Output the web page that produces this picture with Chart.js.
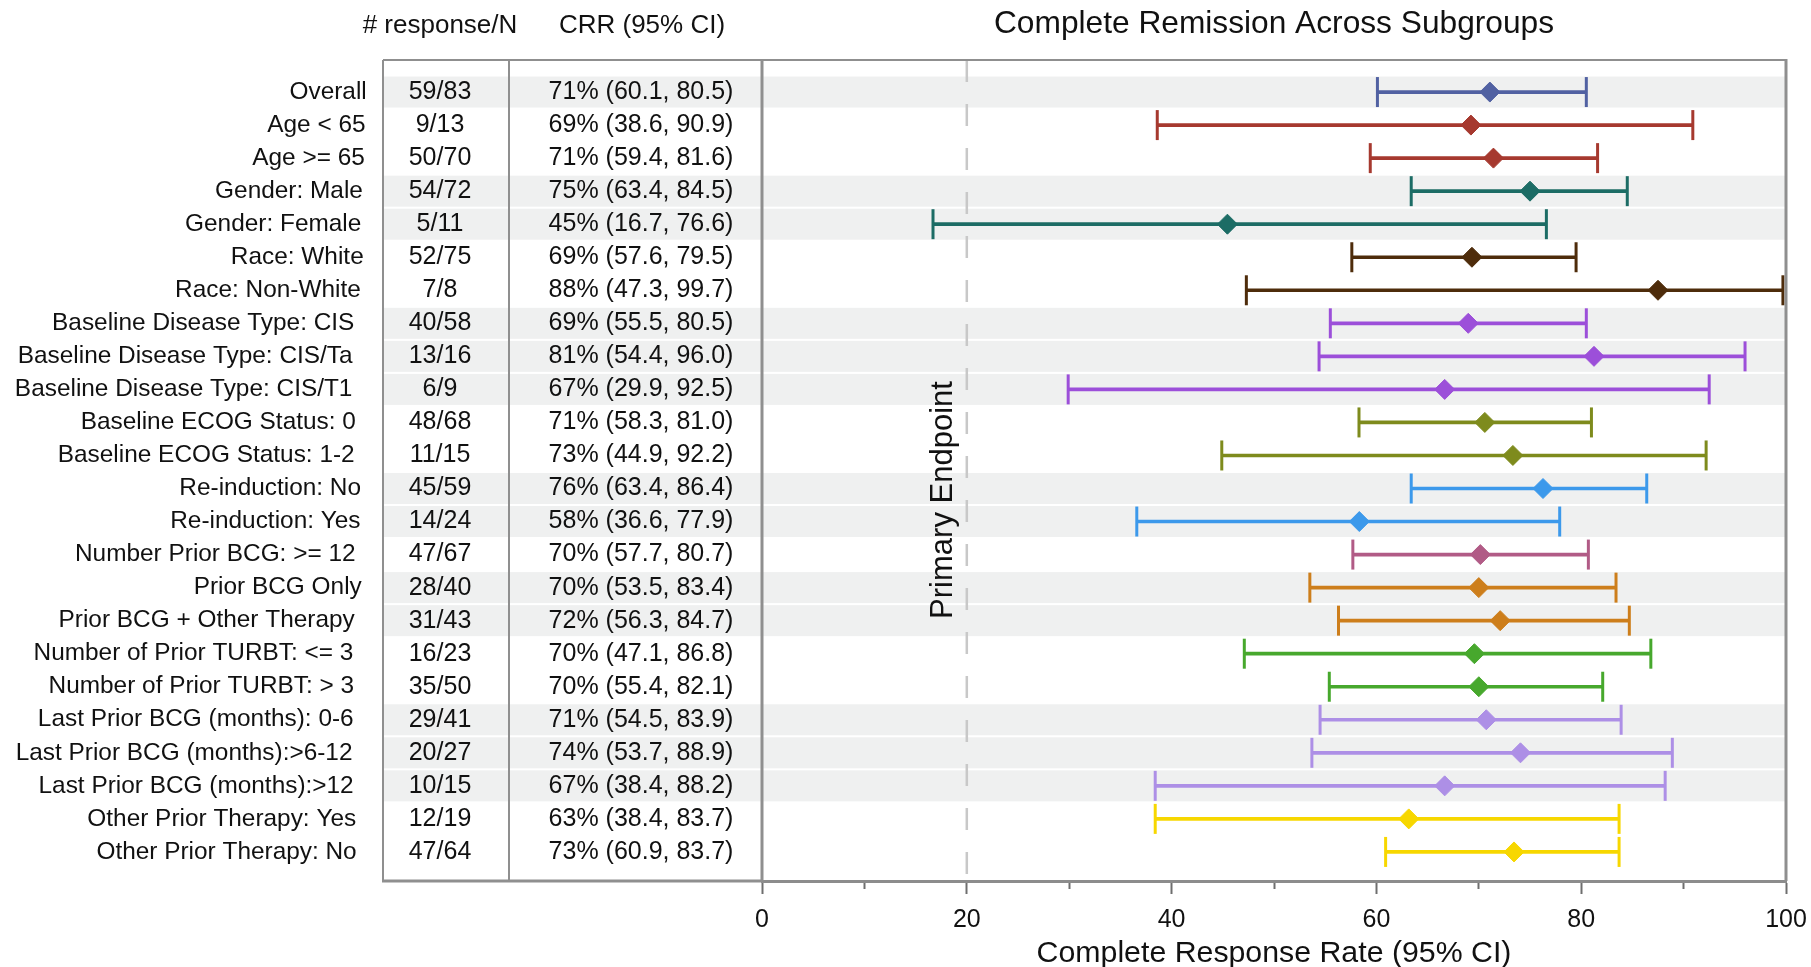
<!DOCTYPE html>
<html>
<head>
<meta charset="utf-8">
<title>Complete Remission Across Subgroups</title>
<script src="https://cdn.jsdelivr.net/npm/chart.js@4.4.1/dist/chart.umd.min.js"></script>
<style>
  html, body { margin: 0; padding: 0; background: #fff; }
  #wrap { width: 1811px; height: 967px; }
</style>
</head>
<body>
<div id="wrap"><canvas id="forest" width="1811" height="967"></canvas></div>
<script>
// Subgroups, top to bottom
const subgroups = [
  'Overall', 'Age < 65', 'Age >= 65', 'Gender: Male', 'Gender: Female',
  'Race: White', 'Race: Non-White', 'Baseline Disease Type: CIS',
  'Baseline Disease Type: CIS/Ta', 'Baseline Disease Type: CIS/T1',
  'Baseline ECOG Status: 0', 'Baseline ECOG Status: 1-2', 'Re-induction: No',
  'Re-induction: Yes', 'Number Prior BCG: >= 12', 'Prior BCG Only',
  'Prior BCG + Other Therapy', 'Number of Prior TURBT: <= 3',
  'Number of Prior TURBT: > 3', 'Last Prior BCG (months): 0-6',
  'Last Prior BCG (months):>6-12', 'Last Prior BCG (months):>12',
  'Other Prior Therapy: Yes', 'Other Prior Therapy: No'
]
const responders = [59, 9, 50, 54, 5, 52, 7, 40, 13, 6, 48, 11, 45, 14, 47, 28, 31, 16, 35, 29, 20, 10, 12, 47]
const totals = [83, 13, 70, 72, 11, 75, 8, 58, 16, 9, 68, 15, 59, 24, 67, 40, 43, 23, 50, 41, 27, 15, 19, 64]
// Complete response rate, %
const rates = [71.08, 69.23, 71.43, 75.00, 45.45, 69.33, 87.50, 68.97, 81.25, 66.67, 70.59, 73.33,
  76.27, 58.33, 70.15, 70.00, 72.09, 69.57, 70.00, 70.73, 74.07, 66.67, 63.16, 73.44]
const lower = [60.1, 38.6, 59.4, 63.4, 16.7, 57.6, 47.3, 55.5, 54.4, 29.9, 58.3, 44.9,
  63.4, 36.6, 57.7, 53.5, 56.3, 47.1, 55.4, 54.5, 53.7, 38.4, 38.4, 60.9]
const upper = [80.5, 90.9, 81.6, 84.5, 76.6, 79.5, 99.7, 80.5, 96.0, 92.5, 81.0, 92.2,
  86.4, 77.9, 80.7, 83.4, 84.7, 86.8, 82.1, 83.9, 88.9, 88.2, 83.7, 83.7]
// Group of each row (colour and shading)
const groupOf = [0, 1, 1, 2, 2, 3, 3, 4, 4, 4, 5, 5, 6, 6, 7, 8, 8, 9, 9, 10, 10, 10, 11, 11]
const xTicks = [0, 20, 40, 60, 80, 100]
const primaryEndpoint = 20

// Styles
const groupColors = ['#5161a2', '#a6392f', '#1c6c65', '#4e2c0b', '#9c4fd9', '#7e8b1d',
  '#3c99eb', '#b15b86', '#cd7e1b', '#47a82d', '#ad8fe6', '#f7d700']
const rowColors = groupOf.map(g => groupColors[g])
const FONT = '"Liberation Sans", Arial, sans-serif'
const TEXT = '#111'
const TABLE_LEFT = 383
const COL_DIV = 509

Chart.defaults.font.family = FONT

// Table, shading bands, reference line and frames
const forestTable = {
  id: 'forestTable',
  beforeDraw(chart) {
    const { ctx, chartArea, scales: { x, y } } = chart
    ctx.save()
    // shading bands
    ctx.fillStyle = '#eff0f0'
    subgroups.forEach((_, i) => {
      if (groupOf[i] % 2 !== 0) return
      const cy = y.getPixelForValue(i)
      ctx.fillRect(TABLE_LEFT, cy - 15.5, chartArea.right - TABLE_LEFT, 31)
    })
    // reference line
    const rx = x.getPixelForValue(primaryEndpoint)
    ctx.strokeStyle = '#c8c8c8'
    ctx.lineWidth = 2.5
    ctx.setLineDash([22, 22])
    ctx.beginPath()
    ctx.moveTo(rx, chartArea.top)
    ctx.lineTo(rx, chartArea.bottom)
    ctx.stroke()
    ctx.setLineDash([])
    // rotated label
    ctx.fillStyle = TEXT
    ctx.font = '31px ' + FONT
    ctx.translate(rx - 15, chartArea.top + 440)
    ctx.rotate(-Math.PI / 2)
    ctx.textAlign = 'center'
    ctx.textBaseline = 'alphabetic'
    ctx.fillText('Primary Endpoint', 0, 0)
    ctx.restore()
  },
  afterDraw(chart) {
    const { ctx, chartArea, scales: { y } } = chart
    ctx.save()
    ctx.fillStyle = TEXT
    ctx.textBaseline = 'middle'
    // headers
    ctx.font = '26px ' + FONT
    ctx.textAlign = 'center'
    ctx.fillText('# response/N', 440, 26)
    ctx.fillText('CRR (95% CI)', 642, 26)
    subgroups.forEach((label, i) => {
      const cy = y.getPixelForValue(i)
      ctx.font = '24.4px ' + FONT
      ctx.textAlign = 'right'
      const w = ctx.measureText(label).width
      ctx.fillText(label, 371 - 0.055 * w, cy)
      ctx.font = '25px ' + FONT
      ctx.textAlign = 'center'
      ctx.fillText(responders[i] + '/' + totals[i], 440, cy)
      const crr = Math.round(rates[i]) + '% (' + lower[i].toFixed(1) + ', ' + upper[i].toFixed(1) + ')'
      ctx.fillText(crr, 641, cy)
    })
    // frames
    ctx.strokeStyle = '#8f8f8f'
    ctx.lineWidth = 2
    ctx.beginPath()
    ctx.moveTo(TABLE_LEFT, chartArea.top)
    ctx.lineTo(TABLE_LEFT, chartArea.bottom)
    ctx.moveTo(COL_DIV, chartArea.top)
    ctx.lineTo(COL_DIV, chartArea.bottom)
    ctx.moveTo(TABLE_LEFT, chartArea.top)
    ctx.lineTo(chartArea.right, chartArea.top)
    ctx.stroke()
    ctx.lineWidth = 3
    ctx.beginPath()
    ctx.moveTo(TABLE_LEFT - 1, chartArea.bottom)
    ctx.lineTo(chartArea.left, chartArea.bottom)
    ctx.moveTo(chartArea.left, chartArea.top)
    ctx.lineTo(chartArea.left, chartArea.bottom)
    ctx.moveTo(chartArea.right, chartArea.top - 1)
    ctx.lineTo(chartArea.right, chartArea.bottom)
    ctx.stroke()
    ctx.restore()
  }
}

const ctx = document.getElementById('forest').getContext('2d')

new Chart(ctx, {
  type: 'scatter',
  data: {
    datasets: [
      {
        // point estimates
        data: rates.map((v, i) => ({ x: v, y: i })),
        pointStyle: 'rectRot',
        pointRadius: 10,
        pointHoverRadius: 10,
        pointBackgroundColor: rowColors,
        pointBorderColor: rowColors,
        pointBorderWidth: 1
      },
      {
        // lower caps
        data: lower.map((v, i) => ({ x: v, y: i })),
        pointStyle: 'line',
        pointRotation: 90,
        pointRadius: 15,
        pointHoverRadius: 15,
        pointBorderColor: rowColors,
        pointBorderWidth: 3
      },
      {
        // upper caps
        data: upper.map((v, i) => ({ x: v, y: i })),
        pointStyle: 'line',
        pointRotation: 90,
        pointRadius: 15,
        pointHoverRadius: 15,
        pointBorderColor: rowColors,
        pointBorderWidth: 3
      },
      {
        // confidence intervals
        type: 'bar',
        indexAxis: 'y',
        data: lower.map((v, i) => ({ x: [v, upper[i]], y: i })),
        backgroundColor: rowColors,
        borderWidth: 0,
        barThickness: 3
      }
    ]
  },
  options: {
    responsive: false,
    animation: false,
    events: [],
    layout: { padding: { left: 762, right: 25, top: 0, bottom: 0 } },
    plugins: {
      legend: { display: false },
      tooltip: { enabled: false },
      title: {
        display: true,
        fullSize: false,
        text: 'Complete Remission Across Subgroups',
        color: TEXT,
        font: { size: 31.7, weight: 'normal', lineHeight: 1 },
        padding: { top: 8, bottom: 20.3 }
      }
    },
    scales: {
      x: {
        type: 'linear',
        min: 0,
        max: 100,
        offset: false,
        afterFit: scale => {
          scale.height = 86
          scale.paddingLeft = 0
          scale.paddingRight = 0
        },
        ticks: {
          stepSize: 10,
          color: TEXT,
          padding: 11,
          font: { size: 25 },
          callback: v => xTicks.includes(v) ? v : ''
        },
        grid: {
          offset: false,
          drawOnChartArea: false,
          tickLength: 13,
          tickWidth: 2,
          tickColor: '#6e6e6e',
          tickBorderDash: c => (c.tick && c.tick.value % 20 !== 0) ? [6, 40] : []
        },
        border: { display: true, color: '#8c8c8c', width: 3 },
        title: {
          display: true,
          text: 'Complete Response Rate (95% CI)',
          color: TEXT,
          font: { size: 30.3, lineHeight: 0.85 },
          padding: { top: 0, bottom: 0 }
        }
      },
      y: {
        type: 'linear',
        display: false,
        reverse: true,
        offset: false,
        grid: { offset: false },
        min: -0.97,
        max: 23.88
      }
    }
  },
  plugins: [forestTable]
})
</script>
</body>
</html>
